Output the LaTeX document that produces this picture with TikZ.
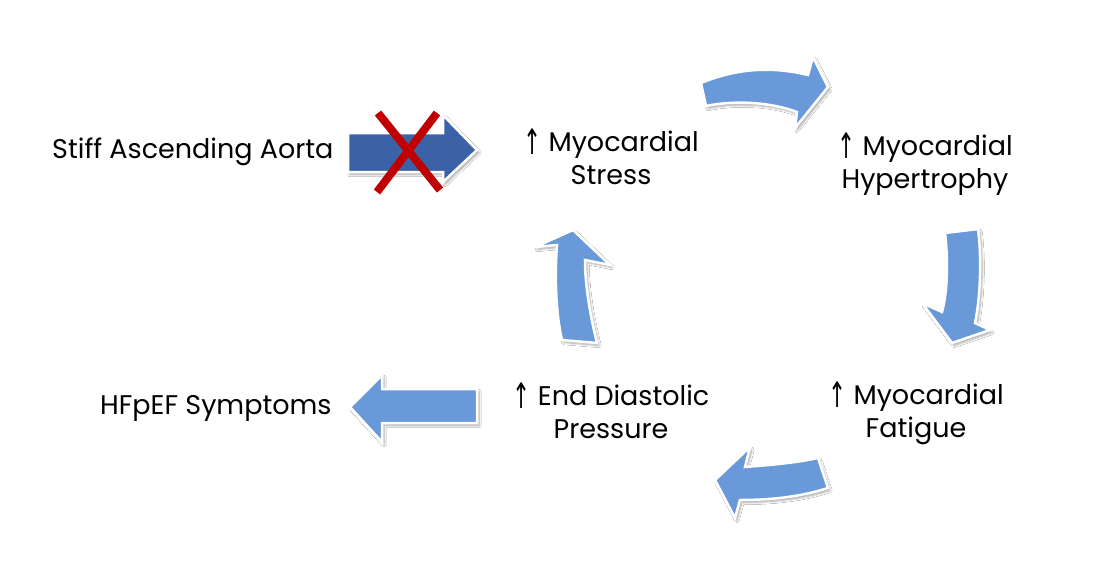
\documentclass[tikz,border=0pt]{standalone}
\usepackage{fontspec}
\setmainfont{Poppins}
\newfontfamily\symf{DejaVu Sans}
\usetikzlibrary{shadows.blur}
\definecolor{lightarrow}{HTML}{6A99D9}
\definecolor{darkarrow}{HTML}{3B62A6}
\definecolor{xred}{HTML}{C00000}
\tikzset{
  blockarrow/.style={fill=lightarrow, draw=white, line width=2.5pt, line join=miter,
    blur shadow={shadow xshift=2pt, shadow yshift=-2.5pt, shadow blur steps=6, shadow opacity=35}},
  darkblock/.style={blockarrow, fill=darkarrow},
  lbl/.style={font=\fontsize{27}{32.5}\selectfont, align=center, inner sep=0pt, text=black},
  xstroke/.style={draw=xred, line width=8pt}
}
\newcommand{\up}{\raisebox{-2.5pt}{\scalebox{0.8}[1.3]{\symf\char"2191}}}
\begin{document}
\begin{tikzpicture}[x=1pt,y=-1pt]
\useasboundingbox (0,0) rectangle (1100,560);
\fill[white] (0,0) rectangle (1100,560);

% labels (base anchor = baseline of the last line)
\node[lbl, anchor=base west] (aorta) at (52,158) {Stiff Ascending Aorta};
\node[lbl, anchor=base] (stress) at (611,184) {\up\ Myocardial\\Stress};
\node[lbl, anchor=base] (hyper) at (925,188) {\up\ Myocardial\\Hypertrophy};
\node[lbl, anchor=base] (fatigue) at (916,437) {\up\ Myocardial\\Fatigue};
\node[lbl, anchor=base] (edp) at (611,438) {\up\ End Diastolic\\Pressure};
\node[lbl, anchor=base west] (hfpef) at (100,414) {HFpEF Symptoms};

% dark straight arrow
\path[darkblock] (348,133) -- (443,133) -- (443,115) -- (477,150) -- (443,182) -- (443,172) -- (348,172) -- cycle;
% red X
\coordinate (x1) at (378,113); \coordinate (x2) at (440,190);
\coordinate (x3) at (437,113); \coordinate (x4) at (377,192);
\draw[xstroke] (x1) -- (x2);
\draw[xstroke] (x3) -- (x4);

% top curved arrow
\path[blockarrow] (701,83) .. controls (740,67) and (775,67) .. (808,75) -- (813,57) -- (828,87) -- (795,128) -- (797,112) .. controls (770,102) and (735,100) .. (706,106) -- cycle;
% right curved arrow
\path[blockarrow] (945,233) -- (978,229) .. controls (982,260) and (980,300) .. (975,323) -- (990,330) -- (952,343) -- (922,303) -- (942,312) .. controls (948,290) and (948,258) .. (945,233) -- cycle;
% bottom curved arrow
\path[blockarrow] (818,458) -- (828,488) .. controls (800,497) and (770,500) .. (740,500) -- (735,518) -- (715,480) -- (750,447) -- (745,467) .. controls (770,465) and (795,463) .. (818,458) -- cycle;
% up curved arrow
\path[blockarrow] (562,340) .. controls (555,310) and (555,270) .. (557,245) -- (535,247) -- (573,230) -- (610,265) -- (585,260) .. controls (585,285) and (590,315) .. (597,343) -- cycle;
% left straight arrow
\path[blockarrow] (477,389) -- (382,389) -- (382,375) -- (350,407) -- (382,442) -- (382,423) -- (477,423) -- cycle;
\end{tikzpicture}
\end{document}
